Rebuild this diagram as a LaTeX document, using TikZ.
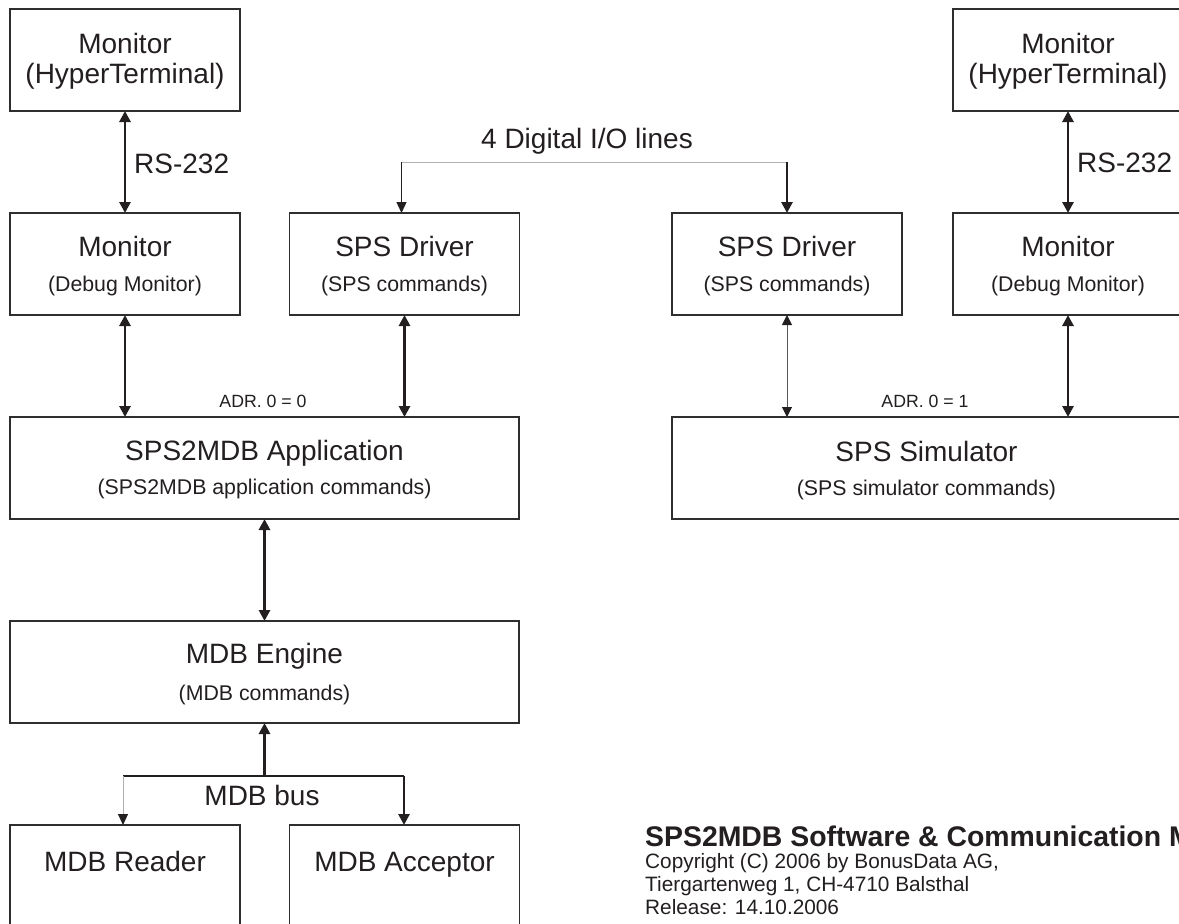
\documentclass[tikz,border=0pt]{standalone}
\usepackage{fontspec}
\setmainfont{Liberation Sans}
\usetikzlibrary{arrows.meta,calc}

\definecolor{ink}{HTML}{231F20}
\definecolor{rim}{HTML}{2E2E2E}
\definecolor{pale}{HTML}{B0B0B0}

\tikzset{
  blk/.style={draw=rim, line width=1.8pt, minimum width=230pt, minimum height=102pt,
              inner sep=0pt, outer sep=0pt},
  wideblk/.style={blk, minimum width=509pt},
  ttl/.style={anchor=base, inner sep=0pt, text=ink, font=\fontsize{28}{32}\selectfont},
  sub/.style={anchor=base, inner sep=0pt, text=ink, font=\fontsize{21.3}{24}\selectfont},
  adr/.style={anchor=base, inner sep=0pt, text=ink, font=\fontsize{17.7}{20}\selectfont},
  note/.style={anchor=base west, inner sep=0pt, text=ink, font=\fontsize{20.8}{24}\selectfont},
  headline/.style={anchor=base west, inner sep=0pt, text=ink, font=\fontsize{28.4}{32}\selectfont\bfseries},
  both/.style={draw=ink, line width=2.8pt,
               arrows={Triangle[width=11pt,length=11pt]-Triangle[width=11pt,length=11pt]}},
  onew/.style={draw=ink, line width=2.8pt, arrows={-Triangle[width=11pt,length=11pt]}},
  thinboth/.style={draw=ink!75, line width=1pt,
               arrows={Triangle[width=10pt,length=10pt,color=ink]-Triangle[width=10pt,length=10pt,color=ink]}},
  thinone/.style={draw=ink, line width=1.4pt, arrows={-Triangle[width=10pt,length=11pt]}},
  paleone/.style={draw=pale, line width=1pt, arrows={-Triangle[width=10pt,length=11pt,color=ink]}},
  rail/.style={draw=pale, line width=1pt},
  busline/.style={draw=ink, line width=2pt},
}

\begin{document}
\begin{tikzpicture}[x=1pt,y=-1pt]
\useasboundingbox (0,0) rectangle (1179,924);
\fill[white] (0,0) rectangle (1179,924);

% ---- boxes ----
\node[blk] (mon1) at (125,60) {};
\node[blk] (mon2) at (125,264) {};
\node[blk] (drv1) at (404.5,264) {};
\node[blk] (drv2) at (787,264) {};
\node[blk] (mon3) at (1068,60) {};
\node[blk] (mon4) at (1068,264) {};
\node[wideblk] (app) at (264.5,468) {};
\node[wideblk] (sim) at (926.5,468) {};
\node[wideblk] (eng) at (264.5,672) {};
\node[blk] (rdr) at (125,876) {};
\node[blk] (acc) at (404.5,876) {};

% ---- box texts ----
\node[ttl] (mon1t) at ($(mon1.north)+(0,44)$) {Monitor};
\node[ttl] (mon1s) at ($(mon1.north)+(0,74)$) {(HyperTerminal)};
\node[ttl] (mon3t) at ($(mon3.north)+(0,44)$) {Monitor};
\node[ttl] (mon3s) at ($(mon3.north)+(0,74)$) {(HyperTerminal)};

\node[ttl] (mon2t) at ($(mon2.north)+(0,43)$) {Monitor};
\node[sub] (mon2s) at ($(mon2.north)+(0,78)$) {(Debug Monitor)};
\node[ttl] (drv1t) at ($(drv1.north)+(0,43)$) {SPS Driver};
\node[sub] (drv1s) at ($(drv1.north)+(0,78)$) {(SPS commands)};
\node[ttl] (drv2t) at ($(drv2.north)+(0,43)$) {SPS Driver};
\node[sub] (drv2s) at ($(drv2.north)+(0,78)$) {(SPS commands)};
\node[ttl] (mon4t) at ($(mon4.north)+(0,43)$) {Monitor};
\node[sub] (mon4s) at ($(mon4.north)+(0,78)$) {(Debug Monitor)};

\node[ttl] (appt) at ($(app.north)+(0,43)$) {SPS2MDB Application};
\node[sub] (apps) at ($(app.north)+(0,77)$) {(SPS2MDB application commands)};
\node[ttl] (simt) at ($(sim.north)+(0,44)$) {SPS Simulator};
\node[sub] (sims) at ($(sim.north)+(0,78)$) {(SPS simulator commands)};
\node[ttl] (engt) at ($(eng.north)+(0,42)$) {MDB Engine};
\node[sub] (engs) at ($(eng.north)+(0,79)$) {(MDB commands)};

\node[ttl] (rdrt) at ($(rdr.north)+(0,46)$) {MDB Reader};
\node[ttl] (acct) at ($(acc.north)+(0,46)$) {MDB Acceptor};

% ---- serial links ----
\draw[both] (mon1) -- (mon2);
\draw[both] (mon3) -- (mon4);
\node[ttl, anchor=base west] (rs1) at (134,173) {RS-232};
\node[ttl, anchor=base west] (rs2) at (1077,172) {RS-232};

% ---- links into the application and the simulator ----
\draw[both] (mon2.south) -- (mon2.south |- app.north);
\draw[both] (drv1.south) -- (drv1.south |- app.north);
\draw[both] (mon4.south) -- (mon4.south |- sim.north);
\draw[thinboth] (drv2.south) -- (drv2.south |- sim.north);
\node[adr] (adr0) at (263,407) {ADR. 0 = 0};
\node[adr] (adr1) at (925,407) {ADR. 0 = 1};

% ---- digital I/O lines between the two drivers ----
\coordinate (dl) at ($(drv1.north)+(-3,-51)$);
\coordinate (dr) at (drv2.north |- dl);
\draw[rail] (dl) -- (dr);
\draw[thinone] (dl) -- (dl |- drv1.north);
\draw[onew] (dr) -- (drv2.north);
\node[ttl] (dio) at (587,148) {4 Digital I/O lines};

% ---- application to engine ----
\draw[both] (app) -- (eng);

% ---- MDB bus ----
\coordinate (bus) at ($(eng.south)+(0,53)$);
\coordinate (busl) at ($(rdr.north |- bus)+(-2,0)$);
\coordinate (busr) at ($(acc.north |- bus)+(-0.5,0)$);
\draw[busline] (busl) -- (busr);
\draw[onew] (bus) -- (eng.south);
\draw[paleone] (busl) -- (busl |- rdr.north);
\draw[onew] (busr) -- (busr |- acc.north);
\node[ttl] (busn) at (262,805) {MDB bus};

% ---- imprint ----
\node[headline] (imp0) at (645,846) {SPS2MDB Software \& Communication M};
\node[note] (imp1) at (645,868) {Copyright (C) 2006 by BonusData AG,};
\node[note] (imp2) at (645,891) {Tiergartenweg 1, CH-4710 Balsthal};
\node[note] (imp3) at (645,914) {Release: 14.10.2006};
\end{tikzpicture}
\end{document}
